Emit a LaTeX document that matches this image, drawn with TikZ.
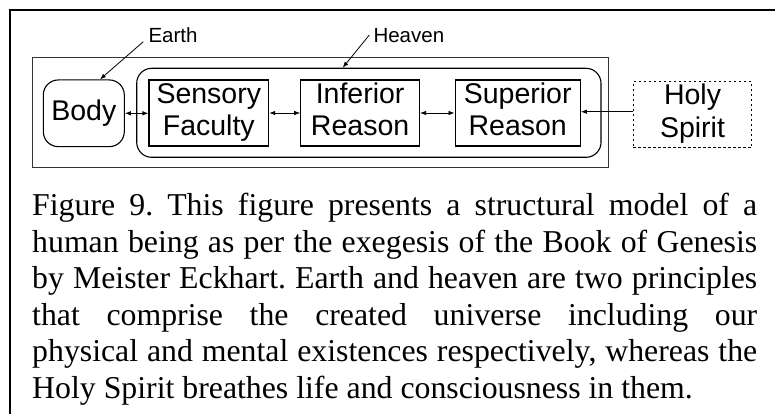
\documentclass[tikz,border=0pt]{standalone}
\usepackage{fontspec}
\setmainfont{Liberation Serif}
\newfontfamily\capfont{Liberation Serif}
\newfontfamily\diagfont{Liberation Sans}
\usetikzlibrary{arrows.meta}
\tikzset{
  boxtext/.style={font=\diagfont\fontsize{28.5}{32.5}\selectfont, align=center, inner sep=0pt},
  stepbox/.style={boxtext, draw, line width=1.1pt, rectangle, minimum height=66pt},
  roundbox/.style={draw, line width=1.1pt, rounded corners=15pt, inner sep=0pt},
  lbltext/.style={font=\diagfont\fontsize{20.5}{24}\selectfont, inner sep=0pt},
  capstyle/.style={font=\capfont\fontsize{31.8}{36.6}\selectfont, inner sep=0pt, text width=725pt, align=left},
  arr/.style={-{Latex[length=6pt,width=4.5pt]}, line width=0.8pt},
  darr/.style={{Latex[length=6pt,width=4.5pt]}-{Latex[length=6pt,width=4.5pt]}, line width=0.8pt},
}
\begin{document}
\begin{tikzpicture}[x=1pt,y=-1pt]
\useasboundingbox (0,0) rectangle (775,414);
% page frame
\draw[line width=2pt] (10,416) -- (10,10) -- (777,10);
% world box
\node[draw, line width=0.8pt, draw=black!80, minimum width=576pt, minimum height=110pt, inner sep=0pt] (world) at (320.3,112.7) {};
% heaven box
\node[roundbox, minimum width=464.3pt, minimum height=89pt] (heaven) at (368.85,112.8) {};
% body
\node[roundbox, boxtext, minimum width=81pt, minimum height=66.7pt] (body) at (83.8,113.3) {Body};
% inner boxes
\node[stepbox, minimum width=119.7pt] (sens) at (208.8,113) {\strut Sensory\\\strut Faculty};
\node[stepbox, minimum width=118.8pt] (inf) at (360.1,113) {\strut Inferior\\\strut Reason};
\node[stepbox, minimum width=125.3pt] (sup) at (517.7,113) {\strut Superior\\\strut Reason};
\node[stepbox, dash pattern=on 2.5pt off 2.5pt, minimum width=118.4pt] (holy) at (692.5,114.7) {\strut Holy\\\strut Spirit};
% connectors
\draw[darr] (body.east) -- (body.east -| sens.west);
\draw[darr] (sens.east) -- (inf.west);
\draw[darr] (inf.east) -- (sup.west);
\draw[arr] (holy.west |- 0,111.7) -- (sup.east |- 0,111.7);
% labels
\node[lbltext, anchor=base west] (earth) at (148.3,42.3) {Earth};
\node[lbltext, anchor=base west] (heavenlbl) at (373.3,42.3) {Heaven};
\coordinate (earthtail) at (143.3,41.7);
\coordinate (heaventail) at (369.3,35);
\draw[arr] (earthtail) -- ([xshift=16.2pt]body.north);
\draw[arr] (heaventail) -- ([xshift=-26.15pt]heaven.north);
% caption
\node[capstyle, anchor=base west] (caption) at (32,215.5) {\spaceskip=0pt\xspaceskip=0pt\frenchspacing
\makebox[725pt][s]{Figure 9. This figure presents a structural model of a}\\
\makebox[725pt][s]{human being as per the exegesis of the Book of Genesis}\\
\makebox[725pt][s]{by Meister Eckhart. Earth and heaven are two principles}\\
\makebox[725pt][s]{that comprise the created universe including our}\\
\makebox[725pt][s]{physical and mental existences respectively, whereas the}\\
Holy Spirit breathes life and consciousness in them.};
\end{tikzpicture}
\end{document}
